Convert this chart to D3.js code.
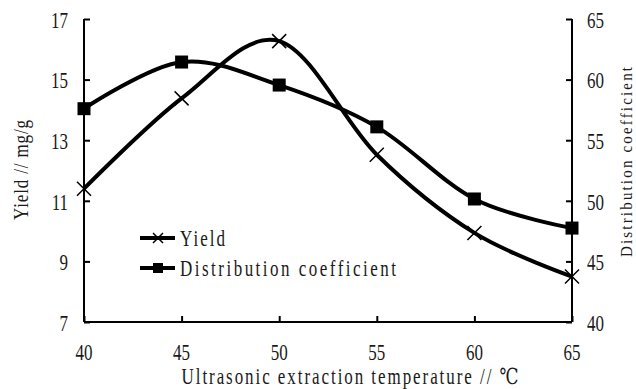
<!DOCTYPE html>
<html><head><meta charset="utf-8">
<script src="https://cdn.jsdelivr.net/npm/d3@7"></script>
<style>body{margin:0;background:#fff}svg{display:block}</style>
</head><body>
<svg id="c" width="636" height="389"></svg>
<script>
const temps = [40, 45, 50, 55, 60, 65];
const yieldVals = [11.4, 14.38, 16.27, 12.52, 9.94, 8.5];
const distVals = [57.6, 61.45, 59.55, 56.1, 50.15, 47.75];
const leftTicks = [7, 9, 11, 13, 15, 17];
const rightTicks = [40, 45, 50, 55, 60, 65];
const xTitle = "Ultrasonic extraction temperature // ℃";
const yTitle = "Yield // mg/g";
const y2Title = "Distribution coefficient";
const seriesNames = ["Yield", "Distribution coefficient"];

const svg = d3.select("#c");
const L = 84, R = 572, T = 19, B = 322;
const x = d3.scaleLinear().domain([40, 65]).range([L, R]);
const yL = d3.scaleLinear().domain([7, 17]).range([B, T]);
const yR = d3.scaleLinear().domain([40, 65]).range([B, T]);
const serif = "'Liberation Serif', 'DejaVu Serif', serif";

// axes
const axL = svg.append("g").attr("transform", `translate(${L},0)`)
  .call(d3.axisLeft(yL).tickValues(leftTicks).tickSize(-6).tickFormat(""));
const axR = svg.append("g").attr("transform", `translate(${R},0)`)
  .call(d3.axisRight(yR).tickValues(rightTicks).tickSize(-6).tickFormat(""));
const axB = svg.append("g").attr("transform", `translate(0,${B})`)
  .call(d3.axisBottom(x).tickValues(temps).tickSize(-6).tickFormat(""));
[axL, axR, axB].forEach(g => {
  g.select(".domain").attr("stroke", "#000").attr("stroke-width", 2);
  g.selectAll(".tick line").attr("stroke", "#000").attr("stroke-width", 2);
});
axL.select(".domain").attr("d", `M0,${T}V${B}`);
axR.select(".domain").attr("d", `M0,${T}V${B}`);
axB.select(".domain").attr("d", `M${L},0H${R}`);

function stxt(xp, yp, txt, anchor, size, sy, len, rot) {
  const t = svg.append("text")
    .attr("transform", `translate(${xp},${yp})${rot ? " rotate(-90)" : ""} scale(1,${sy})`)
    .attr("text-anchor", anchor).attr("dominant-baseline", "central")
    .attr("font-family", serif).attr("font-size", size).attr("fill", "#1a1a1a").text(txt);
  if (len) t.attr("textLength", len).attr("lengthAdjust", "spacing");
  return t;
}
leftTicks.forEach(v => stxt(68, yL(v) + 1, v, "end", 17, 1.3));
rightTicks.forEach(v => stxt(587, yR(v) + 1, v, "start", 17, 1.3));
temps.forEach(v => stxt(x(v), 352, v, "middle", 17, 1.3));

stxt(350, 376, xTitle, "middle", 17, 1.3, 337);
stxt(21, 170, yTitle, "middle", 17, 1.25, 100, true);
stxt(626, 162, y2Title, "middle", 15, 1.15, 190, true);

// lines
const curve = d3.curveCardinal.tension(0);
const lineY = d3.line().x((d, i) => x(temps[i])).y(d => yL(d)).curve(curve);
const lineD = d3.line().x((d, i) => x(temps[i])).y(d => yR(d)).curve(curve);
svg.append("path").attr("d", lineD(distVals)).attr("fill", "none").attr("stroke", "#000").attr("stroke-width", 4);
svg.append("path").attr("d", lineY(yieldVals)).attr("fill", "none").attr("stroke", "#000").attr("stroke-width", 4);

function xMark(cx, cy, s, w) {
  svg.append("path").attr("d", `M${cx - s},${cy - s}L${cx + s},${cy + s}M${cx - s},${cy + s}L${cx + s},${cy - s}`)
    .attr("stroke", "#000").attr("stroke-width", w).attr("fill", "none");
}
function sqMark(cx, cy, s) {
  svg.append("rect").attr("x", cx - s).attr("y", cy - s).attr("width", 2 * s).attr("height", 2 * s).attr("fill", "#000");
}
yieldVals.forEach((v, i) => xMark(x(temps[i]), yL(v), 7, 1.5));
distVals.forEach((v, i) => sqMark(x(temps[i]), yR(v), 6.5));

// legend
const leg = [{ y: 238, name: seriesNames[0], m: "x" }, { y: 268, name: seriesNames[1], m: "s" }];
leg.forEach(l => {
  svg.append("line").attr("x1", 140).attr("x2", 175).attr("y1", l.y).attr("y2", l.y).attr("stroke", "#000").attr("stroke-width", 4);
  if (l.m === "x") xMark(158, l.y, 5, 1.5); else sqMark(158, l.y, 5);
  stxt(180, l.y, l.name, "start", 17, 1.3, l.name.length * 9);
});
</script>
</body></html>
